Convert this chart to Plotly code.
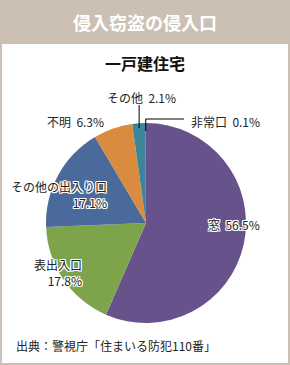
import math
import plotly.graph_objects as go

labels = ["窓", "表出入口", "その他の出入り口", "不明", "その他", "非常口"]
values = [56.5, 17.8, 17.1, 6.3, 2.1, 0.1]
colors = ["#67528b", "#7da34b", "#4a6a9b", "#d98b40", "#3b8699", "#c23a35"]

W, H = 290, 365
FONT = "Noto Sans CJK JP"
BEIGE = "#ccc0b4"
# pie geometry in pixels
CX, CY, R = 146, 223, 100

def px(x):
    return x / W

def py(y):
    return 1 - y / H

fig = go.Figure()
fig.add_trace(go.Pie(
    labels=labels, values=values, sort=False, direction="clockwise", rotation=0,
    marker=dict(colors=colors, line=dict(width=0)),
    textinfo="none", hoverinfo="label+percent", showlegend=False,
    domain=dict(x=[px(CX - R), px(CX + R)], y=[py(CY + R), py(CY - R)]),
))

shadow = "1px 1px 0 #fff, -1px -1px 0 #fff, 1px -1px 0 #fff, -1px 1px 0 #fff, 0 1px 0 #fff, 0 -1px 0 #fff, 1px 0 0 #fff, -1px 0 0 #fff"
lab_font = dict(family=FONT, size=12, color="#222", shadow=shadow)

# slice mid angles for leader lines
total = sum(values)
cum = 0
mids = []
for v in values:
    mids.append((cum + v / 2) / total * 2 * math.pi)
    cum += v

def pt(i, r):
    a = mids[i]
    return CX + r * math.sin(a), CY - r * math.cos(a)

shapes = [
    dict(type="rect", xref="paper", yref="paper", x0=px(2), x1=px(288), y0=py(363), y1=py(44),
         fillcolor="#ffffff", line=dict(width=0), layer="below"),
]

# leader: その他
x1, y1 = pt(4, R - 5)
shapes.append(dict(type="line", xref="paper", yref="paper", x0=px(x1), x1=px(x1),
                   y0=py(104), y1=py(y1), line=dict(color="#000", width=1)))
# leader: 非常口
x2, y2 = pt(5, R - 8)
shapes.append(dict(type="path", xref="paper", yref="paper",
                   path=f"M {px(184)} {py(119)} L {px(x2)} {py(119)} L {px(x2)} {py(y2)}",
                   line=dict(color="#000", width=1)))

annotations = [
    dict(text="<b>侵入窃盗の侵入口</b>", x=px(145), y=py(22), font=dict(family=FONT, size=18, color="#fff")),
    dict(text="<b>一戸建住宅</b>", x=px(145), y=py(63), font=dict(family=FONT, size=16, color="#111")),
    dict(text=f"{labels[4]}&nbsp; {values[4]}%", x=px(105), y=py(97), xanchor="left", font=lab_font),
    dict(text=f"{labels[5]}&nbsp; {values[5]}%", x=px(189), y=py(121), xanchor="left", font=lab_font),
    dict(text=f"{labels[3]}&nbsp; {values[3]}%", x=px(106), y=py(121), xanchor="right", font=lab_font),
    dict(text=f"{labels[2]}<br>{values[2]}%", x=px(109), y=py(194), xanchor="right", align="right", font=lab_font),
    dict(text=f"{labels[0]}&nbsp; {values[0]}%", x=px(262), y=py(224), xanchor="right", font=lab_font),
    dict(text=f"{labels[1]}<br>{values[1]}%", x=px(84), y=py(272), xanchor="right", align="right", font=lab_font),
    dict(text="出典：警視庁「住まいる防犯110番」", x=px(14), y=py(345), xanchor="left", font=dict(family=FONT, size=12, color="#222")),
]
for a in annotations:
    a.setdefault("xref", "paper")
    a.setdefault("yref", "paper")
    a.setdefault("showarrow", False)
    a.setdefault("xanchor", "center")
    a.setdefault("yanchor", "middle")

fig.update_layout(
    width=W, height=H, autosize=False,
    margin=dict(l=0, r=0, t=0, b=0),
    paper_bgcolor=BEIGE,
    shapes=shapes, annotations=annotations,
)
fig.write_html("out.html")
